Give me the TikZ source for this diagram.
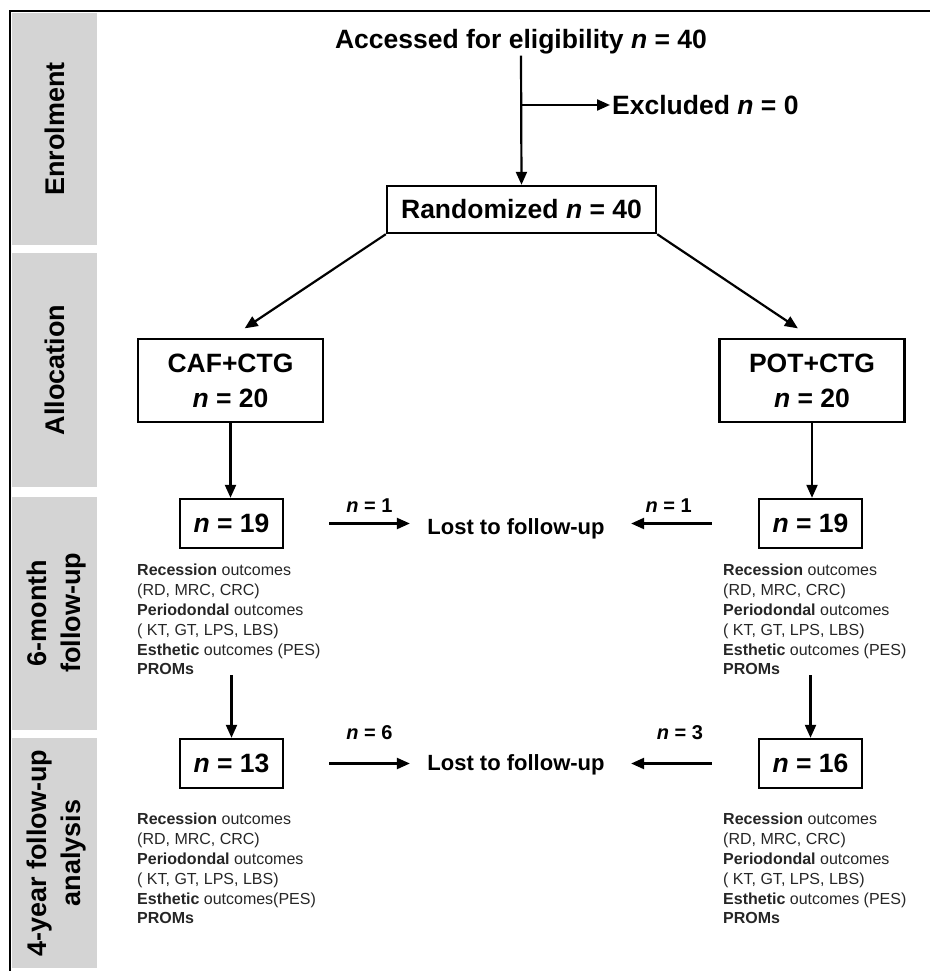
\documentclass[tikz,border=0pt]{standalone}
\usepackage{fontspec}
\setmainfont{Liberation Sans}
\usetikzlibrary{arrows.meta}
\begin{document}
\begin{tikzpicture}[x=1pt,y=-1pt,
  box/.style={draw, line width=2.4pt, inner sep=0pt, align=center},
  big/.style={font=\fontsize{26.5}{35}\selectfont\bfseries},
  mid/.style={font=\fontsize{22}{26}\selectfont\bfseries},
  lab/.style={font=\fontsize{20}{24}\selectfont\bfseries, inner sep=0pt},
  outc/.style={font=\fontsize{16}{19.8}\selectfont, align=left, anchor=north west, inner sep=0pt, text=black!85},
  side/.style={rotate=90, font=\fontsize{27}{34}\selectfont\bfseries, align=center, inner sep=0pt},
  arr/.style={-{Triangle[length=13pt,width=11pt]}, line width=2.2pt},
  panel/.style={fill=black!17, draw=none}]
\useasboundingbox (0,0) rectangle (930,971);
% side panels
\fill[panel] (12,13) rectangle (97,245);
\fill[panel] (12,253) rectangle (97,487);
\fill[panel] (12,497) rectangle (97,730);
\fill[panel] (12,738) rectangle (97,968);
\draw[line width=2.5pt] (10,971) -- (10,11) -- (930,11);
\node[side] (lenr) at (55,129) {Enrolment};
\node[side] (lall) at (55,370) {Allocation};
\node[side] (lsix) at (57,613) {6-month\\follow-up};
\node[side] (lfour) at (57,853) {4-year follow-up\\analysis};
% main flow
\node[big, inner sep=1pt] (acc) at (521,42) {Accessed for eligibility \textit{n} = 40};
\node[big, inner sep=2pt, anchor=west] (exc) at (610,105) {Excluded \textit{n} = 0};
\node[box, big, minimum width=269pt, minimum height=47pt] (rnd) at (521.5,209.5) {Randomized \textit{n} = 40};
\node[box, big, minimum width=185pt, minimum height=83pt] (caf) at (230.5,380.5) {CAF+CTG\\\textit{n} = 20};
\node[box, big, minimum width=185pt, minimum height=83pt] (pot) at (812,380.5) {POT+CTG\\\textit{n} = 20};
\node[box, big, minimum width=103pt, minimum height=49pt] (n19l) at (231.5,523.5) {\textit{n} = 19};
\node[box, big, minimum width=103pt, minimum height=49pt] (n19r) at (810.5,523.5) {\textit{n} = 19};
\node[box, big, minimum width=103pt, minimum height=49pt] (n13) at (231.5,763.5) {\textit{n} = 13};
\node[box, big, minimum width=103pt, minimum height=49pt] (n16) at (810.5,763.5) {\textit{n} = 16};
\node[mid] (lost1) at (516,529) {Lost to follow-up};
\node[mid] (lost2) at (516,765) {Lost to follow-up};
% outcomes
\node[outc] (o6l) at (137,564) {\textbf{Recession} outcomes\\(RD, MRC, CRC)\\\textbf{Periodondal} outcomes\\( KT, GT, LPS, LBS)\\\textbf{Esthetic} outcomes (PES)\\\textbf{PROMs}};
\node[outc] (o6r) at (723,564) {\textbf{Recession} outcomes\\(RD, MRC, CRC)\\\textbf{Periodondal} outcomes\\( KT, GT, LPS, LBS)\\\textbf{Esthetic} outcomes (PES)\\\textbf{PROMs}};
\node[outc] (o4l) at (137,813) {\textbf{Recession} outcomes\\(RD, MRC, CRC)\\\textbf{Periodondal} outcomes\\( KT, GT, LPS, LBS)\\\textbf{Esthetic} outcomes(PES)\\\textbf{PROMs}};
\node[outc] (o4r) at (723,813) {\textbf{Recession} outcomes\\(RD, MRC, CRC)\\\textbf{Periodondal} outcomes\\( KT, GT, LPS, LBS)\\\textbf{Esthetic} outcomes (PES)\\\textbf{PROMs}};
% connectors
\coordinate (br) at (acc.south |- exc.west);
\draw[arr] (acc.south) -- (rnd.north);
\draw[arr] (br) -- (exc.west);
\draw[arr, shorten >=17pt] (rnd.south west) -- (caf.north);
\draw[arr, shorten >=17pt] (rnd.south east) -- (pot.north);
\draw[arr] (caf.south) -- (caf.south |- n19l.north);
\draw[arr] (pot.south) -- (pot.south |- n19r.north);
\draw[arr, shorten <=45pt, shorten >=14pt] (n19l.east) -- node[lab, pos=0.61, above=10pt] (l1) {\textit{n} = 1} (lost1.west |- n19l.east);
\draw[arr, shorten <=46pt, shorten >=23pt] (n19r.west) -- node[lab, pos=0.595, above=10pt] (l2) {\textit{n} = 1} (lost1.east |- n19r.west);
\draw[arr, shorten <=45pt, shorten >=14pt] (n13.east) -- node[lab, pos=0.61, above=23pt] (l3) {\textit{n} = 6} (lost2.west |- n13.east);
\draw[arr, shorten <=46pt, shorten >=23pt] (n16.west) -- node[lab, pos=0.52, above=23pt] (l4) {\textit{n} = 3} (lost2.east |- n16.west);
\draw[arr] (n13.north |- o6l.south) -- (n13.north);
\draw[arr] (n16.north |- o6r.south) -- (n16.north);
\end{tikzpicture}
\end{document}
